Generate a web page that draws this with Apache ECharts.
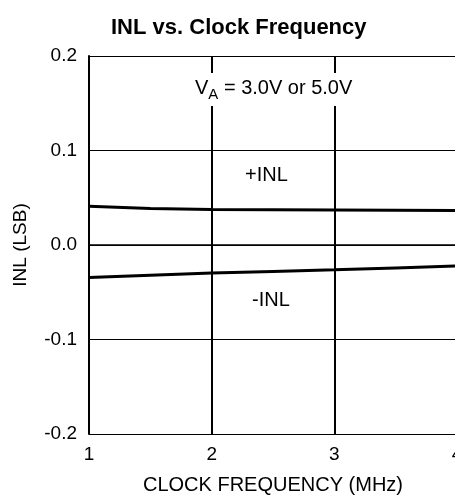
<!DOCTYPE html>
<html>
<head>
<meta charset="utf-8">
<script src="https://cdn.jsdelivr.net/npm/echarts@6/dist/echarts.min.js"></script>
<style>
html,body{margin:0;padding:0;background:#fff;overflow:hidden;}
#c{width:455px;height:498px;}
</style>
</head>
<body>
<div id="c"></div>
<script>
var freq = [1, 1.5, 2, 2.5, 3, 3.5, 4];
var inlPlus = [0.041, 0.0385, 0.0375, 0.0372, 0.037, 0.0367, 0.0364];
var inlMinus = [-0.0345, -0.032, -0.0297, -0.028, -0.0263, -0.0243, -0.0222];
var xTicks = [1, 2, 3, 4];
var yTickLabels = {'-0.2':'-0.2','-0.1':'-0.1','0':'0.0','0.1':'0.1','0.2':'0.2'};

function pairs(xs, ys){ return xs.map(function(x,i){ return [x, ys[i]]; }); }

var FONT = 'Liberation Sans, Arial, sans-serif';
var chart = echarts.init(document.getElementById('c'), null, {renderer:'canvas'});
chart.setOption({
  animation:false,
  backgroundColor:'#fff',
  title:{
    text:'INL vs. Clock Frequency',
    left:106, top:12,
    textStyle:{fontFamily:FONT, fontSize:22, fontWeight:'bold', color:'#000'}
  },
  grid:{left:89, top:56, width:368, height:378, containLabel:false, outerBoundsMode:'none'},
  xAxis:{
    type:'value', min:1, max:4, interval:1,
    name:'CLOCK FREQUENCY (MHz)', nameLocation:'middle', nameGap:41,
    nameTextStyle:{fontFamily:FONT, fontSize:20, color:'#000'},
    axisLine:{show:true, lineStyle:{color:'#000', width:1.5}},
    axisTick:{show:false},
    axisLabel:{margin:11, fontFamily:FONT, fontSize:19, color:'#000',
      formatter:function(v){ return xTicks.indexOf(v) >= 0 ? String(v) : ''; }},
    splitLine:{show:true, lineStyle:{color:'#000', width:2}}
  },
  yAxis:{
    type:'value', min:-0.2, max:0.2, interval:0.1,
    name:'INL (LSB)', nameLocation:'middle', nameGap:59, nameRotate:90,
    nameTextStyle:{fontFamily:FONT, fontSize:19, color:'#000'},
    axisLine:{show:true, lineStyle:{color:'#000', width:2}},
    axisTick:{show:false},
    axisLabel:{margin:12, fontFamily:FONT, fontSize:19, color:'#000',
      formatter:function(v){ var k = String(Math.round(v*10)/10); if(k==='-0') k='0'; return yTickLabels[k] || k; }},
    splitLine:{show:true, lineStyle:{color:'#000', width:1}}
  },
  series:[
    {type:'line', name:'+INL', data:pairs(freq, inlPlus), showSymbol:false, smooth:false,
      lineStyle:{color:'#000', width:3}},
    {type:'line', name:'-INL', data:pairs(freq, inlMinus), showSymbol:false, smooth:false,
      lineStyle:{color:'#000', width:3}}
  ],
  graphic:[
    {type:'text', left:195, top:73, z:100,
      style:{text:'V{s|A} = 3.0V or 5.0V', font:'20px '+FONT, fill:'#000', backgroundColor:'#fff',
        padding:[2,0,4,0],
        rich:{s:{fontSize:15, fontFamily:FONT, padding:[12,0,0,0]}}}},
    {type:'text', left:245, top:165, z:100,
      style:{text:'+INL', font:'20px '+FONT, fill:'#000'}},
    {type:'text', left:252, top:290, z:100,
      style:{text:'-INL', font:'20px '+FONT, fill:'#000'}}
  ]
});
</script>
</body>
</html>
